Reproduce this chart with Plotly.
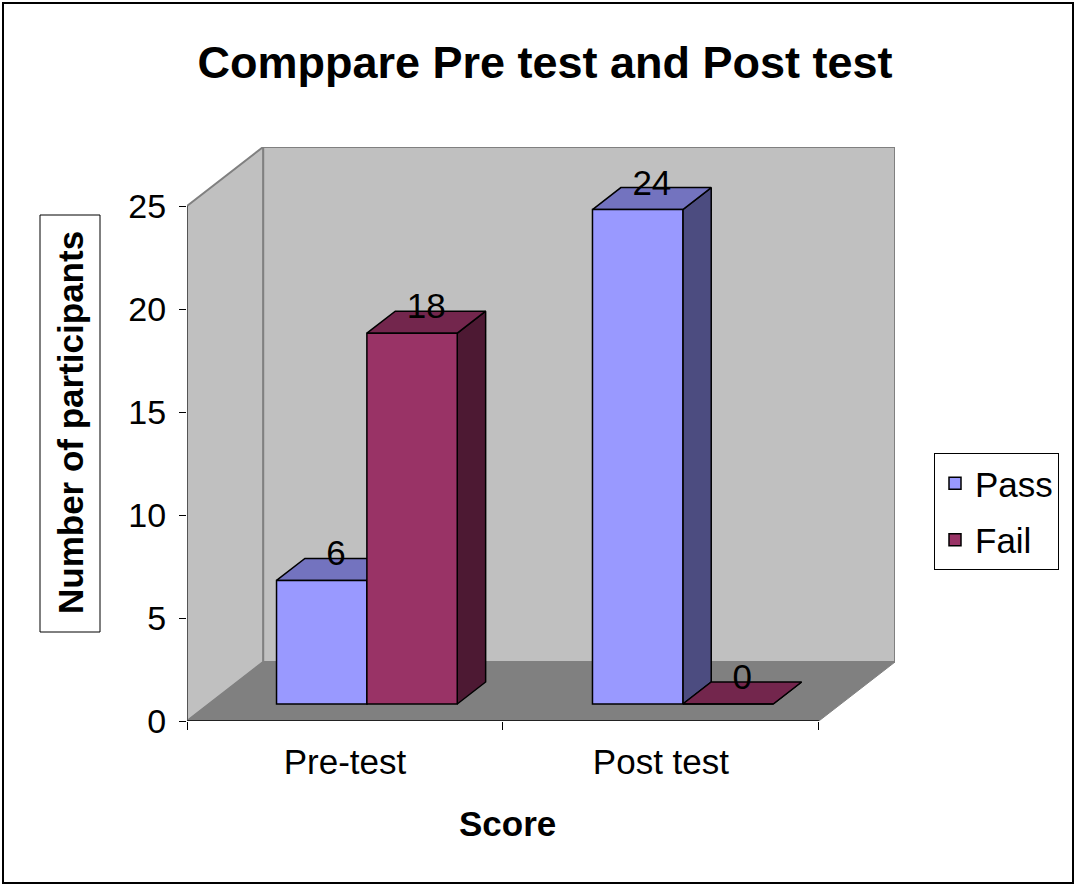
import plotly.graph_objects as go

# ---------------- data ----------------
categories = ["Pre-test", "Post test"]
series_names = ["Pass", "Fail"]
pass_values = [6, 24]
fail_values = [18, 0]
y_ticks = [0, 5, 10, 15, 20, 25]
y_max = 25

title_text = "Comppare Pre test and Post test"
x_title = "Score"
y_title = "Number of participants"

# ---------------- style ----------------
FONT = "Liberation Sans, Arial, sans-serif"
front_colors = {"Pass": "#9999FF", "Fail": "#993366"}
top_colors = {"Pass": "#7373BF", "Fail": "#73264D"}
side_colors = {"Pass": "#4C4C80", "Fail": "#4D1933"}
WALL = "#C0C0C0"
FLOOR = "#808080"
EDGE = "#808080"

# 3D box geometry (axis units)
DX = 0.2409      # horizontal shift of full depth
DY = 2.864       # vertical shift of full depth (value units)
Z0, Z1 = 0.288, 0.661   # bar depth span (fraction of full depth)
BAR_W = 0.286
GAP = (1 - 2 * BAR_W) / 2
LABEL_OFF = 0.62

n = len(categories)
xmax = n + DX
ymax = y_max + DY

fig = go.Figure()


def poly(xs, ys, fill, line_color, lw):
    fig.add_trace(go.Scatter(
        x=xs + [xs[0]], y=ys + [ys[0]], mode="lines", fill="toself",
        fillcolor=fill, line=dict(color=line_color, width=lw),
        hoverinfo="skip", showlegend=False, xaxis="x", yaxis="y"))


def seg(xs, ys, color, lw):
    fig.add_trace(go.Scatter(
        x=xs, y=ys, mode="lines", line=dict(color=color, width=lw),
        hoverinfo="skip", showlegend=False, xaxis="x", yaxis="y"))


# walls and floor
poly([DX, n + DX, n + DX, DX], [DY, DY, y_max + DY, y_max + DY], WALL, EDGE, 2)
poly([0, DX, DX, 0], [0, DY, y_max + DY, y_max], WALL, EDGE, 2)
poly([0, n, n + DX, DX], [0, 0, DY, DY], FLOOR, FLOOR, 1)
seg([0, 0], [0, y_max], "#555555", 2)
seg([0, n], [0, 0], "#222222", 2)

values = {"Pass": pass_values, "Fail": fail_values}

# side and top faces of each bar
for i in range(n):
    for j, s in enumerate(series_names):
        v = values[s][i]
        xl = i + GAP + j * BAR_W
        xr = xl + BAR_W
        # side
        poly([xr + Z0 * DX, xr + Z1 * DX, xr + Z1 * DX, xr + Z0 * DX],
             [Z0 * DY, Z1 * DY, v + Z1 * DY, v + Z0 * DY],
             side_colors[s], "black", 1.5)
        # top
        poly([xl + Z0 * DX, xr + Z0 * DX, xr + Z1 * DX, xl + Z1 * DX],
             [v + Z0 * DY, v + Z0 * DY, v + Z1 * DY, v + Z1 * DY],
             top_colors[s], "black", 1.5)

# front faces as bars (on an overlaid axis pair so they sit above the faces)
for j, s in enumerate(series_names):
    xs = [i + GAP + j * BAR_W + Z0 * DX + BAR_W / 2 for i in range(n)]
    fig.add_trace(go.Bar(
        x=xs, y=values[s], base=Z0 * DY, width=BAR_W, name=s,
        marker=dict(color=front_colors[s], line=dict(color="black", width=1.5)),
        legendgroup=s, xaxis="x2", yaxis="y2", hoverinfo="skip"))

# data labels
lx, ly, lt = [], [], []
for i in range(n):
    for j, s in enumerate(series_names):
        v = values[s][i]
        xl = i + GAP + j * BAR_W
        lx.append(xl + BAR_W / 2 + (Z0 + Z1) / 2 * DX)
        ly.append(v + (Z0 + Z1) / 2 * DY + LABEL_OFF)
        lt.append(str(v))
fig.add_trace(go.Scatter(
    x=lx, y=ly, text=lt, mode="text", textposition="middle center",
    textfont=dict(family=FONT, size=35, color="black"),
    showlegend=False, hoverinfo="skip", xaxis="x2", yaxis="y2"))

L, R, T, B = 187, 181, 147, 165
PW, PH = 1076 - L - R, 886 - T - B


def px(x):
    return (x - L) / PW


def py(y):
    return (886 - B - y) / PH


shapes = [
    # outer border
    dict(type="rect", xref="paper", yref="paper", x0=px(3), x1=px(1073),
         y0=py(883), y1=py(3), line=dict(color="black", width=2)),
    # y title box
    dict(type="rect", xref="paper", yref="paper", x0=px(40), x1=px(100),
         y0=py(632), y1=py(215), line=dict(color="black", width=1),
         fillcolor="white", layer="below"),
]

annotations = [
    dict(text=f"<b>{y_title}</b>", xref="paper", yref="paper", x=px(70), y=py(423),
         textangle=-90, showarrow=False, font=dict(family=FONT, size=35, color="black"),
         xanchor="center", yanchor="middle"),
    dict(text=f"<b>{x_title}</b>", xref="paper", yref="paper", x=px(507), y=py(823),
         showarrow=False, font=dict(family=FONT, size=35, color="black"),
         xanchor="center", yanchor="middle"),
]

fig.update_layout(
    width=1076, height=886,
    margin=dict(l=L, r=R, t=T, b=B),
    paper_bgcolor="white", plot_bgcolor="white",
    font=dict(family=FONT, color="black"),
    title=dict(text=f"<b>{title_text}</b>", x=545 / 1076, xanchor="center",
               y=1 - 62 / 886, yanchor="middle", yref="container",
               font=dict(family=FONT, size=45, color="black")),
    barmode="overlay",
    showlegend=True,
    legend=dict(x=px(934), y=py(453), xanchor="left", yanchor="top",
                bordercolor="black", borderwidth=1, bgcolor="white",
                font=dict(family=FONT, size=35, color="black"),
                tracegroupgap=8, traceorder="grouped"),
    xaxis=dict(range=[0, xmax], domain=[0, 1], showgrid=False, zeroline=False,
               showline=False, tickmode="array", tickvals=[i + 0.5 for i in range(n)],
               ticktext=categories, ticks="outside", ticklen=8,
               tickcolor="rgba(0,0,0,0)", ticklabelstandoff=2,
               tickfont=dict(family=FONT, size=35, color="black"),
               minor=dict(tickmode="array", tickvals=list(range(n + 1)), ticks="outside",
                          ticklen=8, tickcolor="black", tickwidth=1, showgrid=False),
               fixedrange=True),
    yaxis=dict(range=[0, ymax], domain=[0, 1], showgrid=False, zeroline=False,
               showline=False, tickmode="array", tickvals=y_ticks,
               ticks="outside", ticklen=7, tickcolor="black", tickwidth=1,
               ticklabelstandoff=6,
               tickfont=dict(family=FONT, size=34, color="black"), fixedrange=True),
    xaxis2=dict(range=[0, xmax], overlaying="x", visible=False, fixedrange=True),
    yaxis2=dict(range=[0, ymax], overlaying="y", visible=False, fixedrange=True),
    shapes=shapes,
    annotations=annotations,
)

fig.write_html("out.html", config={"displayModeBar": False},
               post_script="document.body.style.margin='0';document.body.style.padding='0';")
